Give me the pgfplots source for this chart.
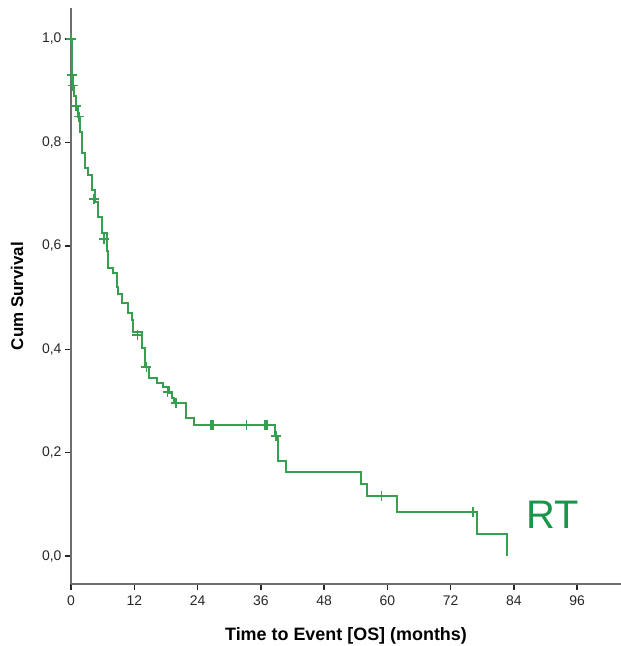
\documentclass[border=0pt]{standalone}
\usepackage{fontspec}
\setmainfont{Liberation Sans}
\usepackage{pgfplots}
\pgfplotsset{compat=1.18}
\usetikzlibrary{calc}
\definecolor{kmgreen}{RGB}{55,160,80}
\definecolor{rtgreen}{RGB}{25,150,75}
\definecolor{axgray}{RGB}{110,110,110}

\begin{document}
\begin{tikzpicture}
\begin{axis}[
  scale only axis,
  width=550bp, height=576bp,
  xmin=0, xmax=104.3,
  ymin=-0.054, ymax=1.06,
  axis x line=bottom, axis y line=left,
  axis line style={-, axgray, line width=1.6pt},
  xtick={0,12,...,96},
  ytick={0,0.2,...,1.0},
  tick align=outside,
  major tick length=6bp,
  tick style={black!85, line width=1.5pt},
  tick label style={font=\fontsize{14}{16}\selectfont, text=black!85},
  xticklabel style={yshift=-2bp},
  /pgf/number format/assume math mode=true,
  yticklabel style={/pgf/number format/.cd, fixed, fixed zerofill, precision=1, use comma},
  xlabel={\bfseries Time to Event [OS] (months)},
  ylabel={\bfseries Cum Survival},
  xlabel style={font=\fontsize{18}{20}\selectfont, yshift=-15bp},
  ylabel style={font=\fontsize{17}{19}\selectfont, yshift=12bp},
  clip=false,
]
% Kaplan-Meier step curve
\addplot[const plot, draw=kmgreen, line width=2pt] coordinates {
  (0,1.000) (0.1,0.960) (0.2,0.930) (0.35,0.910) (0.6,0.890)
  (0.9,0.870) (1.3,0.850) (1.8,0.820) (2.1,0.780) (2.7,0.750)
  (3.3,0.737) (3.9,0.708) (4.6,0.685) (5.2,0.656) (5.8,0.625)
  (6.8,0.590) (7.1,0.557) (8.0,0.548) (8.7,0.521) (9.0,0.507)
  (9.6,0.489) (10.9,0.470) (11.5,0.456) (11.8,0.434) (13.4,0.402)
  (14.0,0.366) (14.8,0.344) (16.3,0.334) (17.5,0.327) (18.6,0.315)
  (19.1,0.306) (19.6,0.296) (21.9,0.267) (23.3,0.253) (38.6,0.233)
  (39.3,0.184) (40.7,0.162) (55.0,0.139) (56.1,0.117) (61.9,0.086)
  (77.0,0.043) (82.6,0.000)
};
% censored observations
\addplot[only marks, mark=+, mark size=5bp, draw=kmgreen,
  mark options={draw=kmgreen, line width=1.8pt}] coordinates {
  (0,1.0) (0.25,0.93) (0.45,0.91) (1.0,0.87) (1.5,0.85)
  (4.4,0.69) (6.3,0.613) (12.6,0.427) (14.3,0.366) (18.3,0.318)
  (19.9,0.296) (26.6,0.253) (26.9,0.253) (33.3,0.253) (36.8,0.253)
  (37.2,0.253) (38.9,0.233) (58.9,0.117) (76.2,0.086)
};
\node[rtgreen, font=\fontsize{40}{40}\selectfont] at (axis cs:91.4,0.079) {RT};
\end{axis}
\pgfresetboundingbox
\path[use as bounding box] ($(current axis.south west)+(-71bp,-62bp)$) rectangle ($(current axis.north east)+(0,8bp)$);
\end{tikzpicture}
\end{document}
